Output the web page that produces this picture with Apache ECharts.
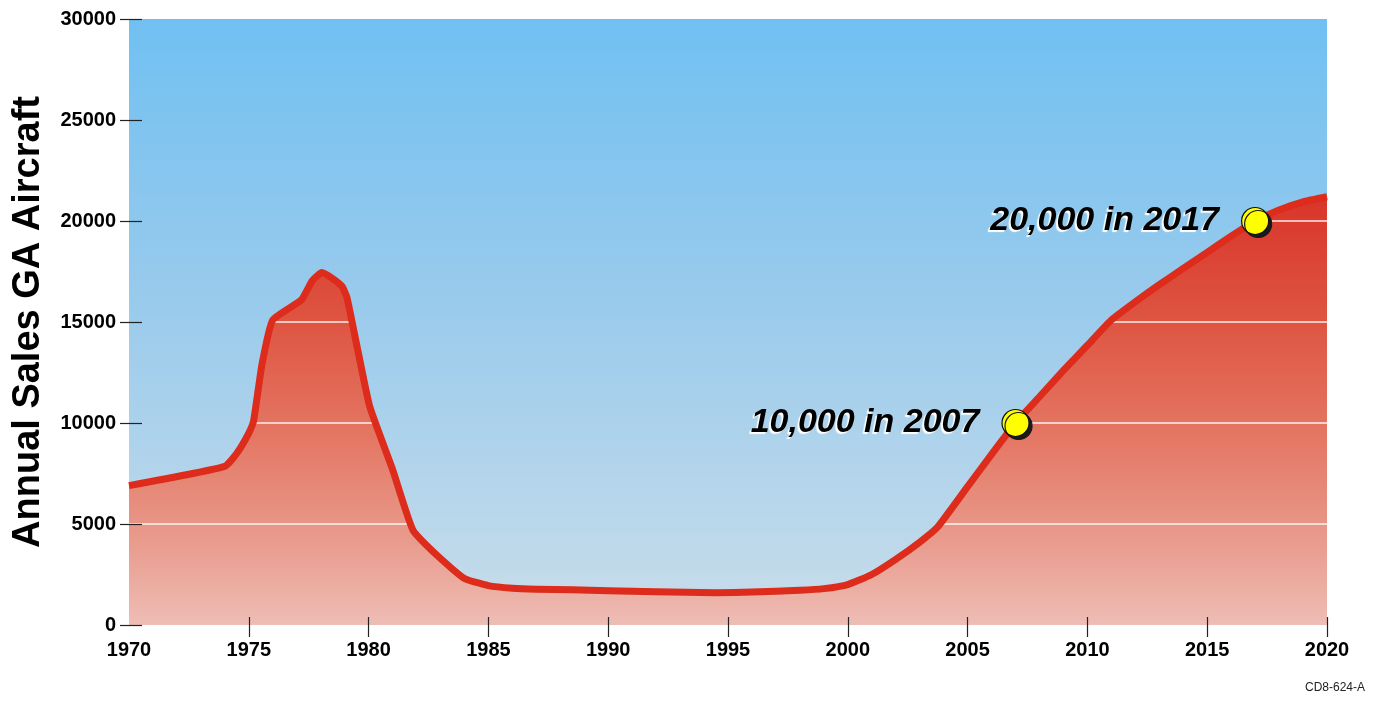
<!DOCTYPE html>
<html>
<head>
<meta charset="utf-8">
<script src="https://cdn.jsdelivr.net/npm/echarts@6/dist/echarts.min.js"></script>
<style>
  html, body { margin: 0; padding: 0; background: #fff; }
  #chart { width: 1385px; height: 702px; }
</style>
</head>
<body>
<div id="chart"></div>
<script>
// Annual general-aviation aircraft sales, 1970-2020 (year, units)
const years = [1970, 1974, 1974.5, 1975, 1975.2, 1975.55, 1976, 1977.2, 1977.65, 1978.05, 1978.5, 1978.9, 1979.1,
  1979.55, 1980.05, 1981, 1981.85, 1982.9, 1984, 1985, 1986, 1987, 1988.5, 1990, 1992, 1994.5, 1996, 1998, 1999,
  2000, 2001, 2002, 2003, 2003.75, 2005, 2006, 2007, 2008, 2009, 2010, 2011, 2012, 2013, 2014, 2015, 2016, 2017,
  2018, 2019, 2020];
const sales = [6900, 7850, 8500, 9500, 10100, 12900, 15100, 16100, 17050, 17450, 17150, 16750, 16200,
  13600, 10800, 7700, 4700, 3400, 2300, 1950, 1820, 1770, 1740, 1700, 1650, 1600, 1630, 1720, 1800,
  2000, 2500, 3250, 4100, 4850, 6850, 8450, 10000, 11300, 12600, 13850, 15100, 16000, 16850, 17650, 18450, 19250, 20000,
  20550, 20950, 21200];

// Highlighted milestones
const milestoneYears = [2007, 2017];
const milestoneValues = [10000, 20000];

// Axis ranges and tick positions
const yTicks = { min: 0, max: 30000, interval: 5000 };
const xTicks = { min: 1970, max: 2020, interval: 5 };
const xTickMarks = [1975, 1980, 1985, 1990, 1995, 2000, 2005, 2010, 2015, 2020];

const salesData = years.map((y, i) => [y, sales[i]]);
const milestoneData = milestoneYears.map((y, i) => [y, milestoneValues[i]]);

const chart = echarts.init(document.getElementById('chart'));
const G = echarts.graphic;

const plotTop = 19, plotBottom = 625;

const skyFill = new G.LinearGradient(0, plotTop, 0, plotBottom, [
  { offset: 0, color: '#70C0F2' },
  { offset: 0.45, color: '#98CAEC' },
  { offset: 1, color: '#C9DDEA' }
], true);

const groundFill = new G.LinearGradient(0, 0, 0, 1, [
  { offset: 0, color: '#D22A1E' },
  { offset: 0.3, color: '#D9362A' },
  { offset: 0.5, color: '#DE5542' },
  { offset: 0.7, color: '#E47966' },
  { offset: 0.87, color: '#E99D8F' },
  { offset: 1, color: '#EEBDB5' }
]);

const font = '"Liberation Sans", Arial, Helvetica, sans-serif';
const tickStyle = { color: '#222', width: 1.2 };

chart.setOption({
  animation: false,
  title: {
    text: 'CD8-624-A',
    right: 15,
    bottom: 3,
    textStyle: { fontFamily: font, fontSize: 12, fontWeight: 'normal', color: '#222' }
  },
  grid: {
    left: 129, right: 58, top: plotTop, bottom: 702 - plotBottom,
    outerBoundsMode: 'none',
    containLabel: false,
    show: true, borderWidth: 0,
    backgroundColor: groundFill
  },
  xAxis: [{
    type: 'value',
    min: xTicks.min, max: xTicks.max, interval: xTicks.interval,
    axisLine: { show: false },
    axisTick: { show: true, length: 12, customValues: xTickMarks, lineStyle: tickStyle },
    axisLabel: { fontFamily: font, fontSize: 20, fontWeight: 'bold', color: '#000', margin: 15,
      formatter: v => String(v) },
    splitLine: { show: false }
  }, {
    type: 'value', position: 'bottom', z: 10,
    min: xTicks.min, max: xTicks.max, interval: xTicks.interval,
    axisLine: { show: false },
    axisTick: { show: true, inside: true, length: 8, customValues: xTickMarks, lineStyle: tickStyle },
    axisLabel: { show: false },
    splitLine: { show: false }
  }],
  yAxis: [{
    type: 'value',
    min: yTicks.min, max: yTicks.max, interval: yTicks.interval,
    name: 'Annual Sales GA Aircraft',
    nameLocation: 'middle',
    nameGap: 81,
    nameTextStyle: { fontFamily: font, fontSize: 38, fontWeight: 'bold', color: '#000' },
    axisLine: { show: false },
    axisTick: { show: true, length: 9, lineStyle: tickStyle },
    axisLabel: { fontFamily: font, fontSize: 20, fontWeight: 'bold', color: '#000', margin: 13,
      formatter: v => String(v) },
    splitLine: { show: true, showMinLine: false, showMaxLine: false,
      lineStyle: { color: '#FFFFFF', width: 1.5, opacity: 0.9 } }
  }, {
    type: 'value', position: 'left', z: 10,
    min: yTicks.min, max: yTicks.max, interval: yTicks.interval,
    axisLine: { show: false },
    axisTick: { show: true, inside: true, length: 13, lineStyle: tickStyle },
    axisLabel: { show: false },
    splitLine: { show: false }
  }],
  series: [{
    name: 'Sales',
    type: 'line',
    data: salesData,
    smooth: 0.15,
    symbol: 'none',
    z: 3,
    lineStyle: { color: '#DD2B1C', width: 7, join: 'round', cap: 'butt' },
    areaStyle: { origin: 'end', color: skyFill, opacity: 1 }
  }, {
    name: 'Milestones',
    type: 'scatter',
    data: milestoneData,
    z: 5,
    symbol: 'circle',
    symbolSize: 27,
    itemStyle: {
      color: '#FFFF00', opacity: 1, borderColor: '#111', borderWidth: 1.2,
      shadowColor: '#1a1a1a', shadowBlur: 0, shadowOffsetX: 3, shadowOffsetY: 3
    },
    label: {
      show: true,
      position: 'left',
      distance: 22,
      formatter: p => p.value[1].toLocaleString('en-US') + ' in ' + p.value[0],
      fontFamily: font, fontSize: 34, fontWeight: 'bold', fontStyle: 'italic', color: '#000',
      textShadowColor: '#FFFFFF', textShadowBlur: 1, textShadowOffsetX: -2, textShadowOffsetY: 2
    }
  }]
});
</script>
</body>
</html>
